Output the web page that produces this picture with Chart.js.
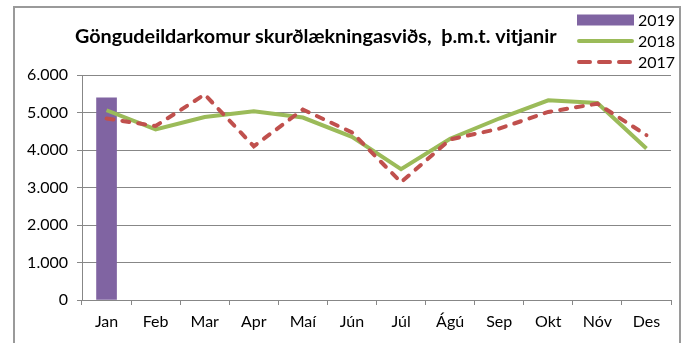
<!DOCTYPE html>
<html>
<head>
<meta charset="utf-8">
<script src="https://cdn.jsdelivr.net/npm/chart.js@4"></script>
<style>
  html, body { margin:0; padding:0; background:#fff; }
  #wrap { width:692px; height:343px; position:relative; }
</style>
</head>
<body>
<div id="wrap"><canvas id="chart" width="692" height="343"></canvas></div>
<script>
// mánuðir og gildi
let manudir = ['Jan','Feb','Mar','Apr','Maí','Jún','Júl','Ágú','Sep','Okt','Nóv','Des'];
let ar2019 = [5390, null, null, null, null, null, null, null, null, null, null, null];
let ar2018 = [5060, 4550, 4880, 5030, 4865, 4350, 3490, 4300, 4840, 5325, 5255, 4040];
let ar2017 = [4840, 4640, 5480, 4100, 5080, 4470, 3140, 4280, 4570, 5015, 5235, 4395];
let yTicks = [0, 1000, 2000, 3000, 4000, 5000, 6000];

let titill = 'Göngudeildarkomur skurðlækningasviðs,  þ.m.t. vitjanir';
let leturgerd = 'Lato, "Open Sans", sans-serif';

function tala(n){ return n.toLocaleString('de-DE'); }

// rammi, titill og skýringar teiknuð beint á canvas
const ramma = {
  id:'ramma',
  beforeDraw(chart){
    let c = chart.ctx;
    c.save();
    c.strokeStyle = '#9a9a9a'; c.lineWidth = 2;
    c.strokeRect(14, 7, 666, 400);
    c.restore();
  },
  afterDraw(chart){
    let c = chart.ctx;
    c.save();
    c.fillStyle = '#000';
    c.font = 'bold 19.8px ' + leturgerd;
    c.textBaseline = 'middle';
    c.textAlign = 'left';
    c.fillText(titill, 75, 37);

    let ds = chart.data.datasets;
    let rows = [ds.find(d=>d.label==='2019'), ds.find(d=>d.label==='2018'), ds.find(d=>d.label==='2017')];
    let ys = [20, 41, 62];
    rows.forEach((d,i)=>{
      let y = ys[i];
      if(d.type==='bar'){
        c.fillStyle = d.backgroundColor;
        c.fillRect(577, y-5.5, 57, 11);
      } else {
        c.strokeStyle = d.borderColor;
        c.lineWidth = 4;
        c.lineCap = 'round';
        c.setLineDash(d.borderDash ? [11,9] : []);
        c.beginPath(); c.moveTo(579, y); c.lineTo(632, y); c.stroke();
        c.setLineDash([]);
      }
      c.fillStyle = '#000';
      c.font = '16px ' + leturgerd;
      c.fillText(d.label, 638, y+1);
    });
    c.restore();
  }
};

new Chart(document.getElementById('chart'), {
  data:{
    labels: manudir,
    datasets:[
      {type:'line', label:'2017', data:ar2017, borderColor:'#C0504D', borderWidth:4, borderDash:[7,9], borderCapStyle:'round', pointRadius:0, tension:0, order:0},
      {type:'line', label:'2018', data:ar2018, borderColor:'#9BBB59', borderWidth:4, pointRadius:0, tension:0, order:1},
      {type:'bar', label:'2019', data:ar2019, backgroundColor:'#8064A2', barThickness:20, order:2}
    ]
  },
  options:{
    responsive:false, animation:false, devicePixelRatio:1,
    layout:{ padding:{ left:0, right:21, top:75, bottom:0 } },
    plugins:{ legend:{display:false}, tooltip:{enabled:false}, title:{display:false} },
    scales:{
      x:{
        offset:true,
        grid:{ display:true, drawOnChartArea:false, offset:true, tickLength:5, color:'#878787' },
        border:{ color:'#878787' },
        ticks:{ color:'#000', font:{ family:leturgerd, size:16 }, padding:7, maxRotation:0 },
        afterFit(s){ s.height = 43; }
      },
      y:{
        min:0, max:6000,
        afterBuildTicks(s){ s.ticks = yTicks.map(v=>({value:v})); },
        grid:{ color:'#878787', tickLength:5 },
        border:{ color:'#878787' },
        ticks:{ color:'#000', font:{ family:leturgerd, size:16 }, padding:9, callback:v=>tala(v) },
        afterFit(s){ s.width = 82; }
      }
    }
  },
  plugins:[ramma]
});
</script>
</body>
</html>
